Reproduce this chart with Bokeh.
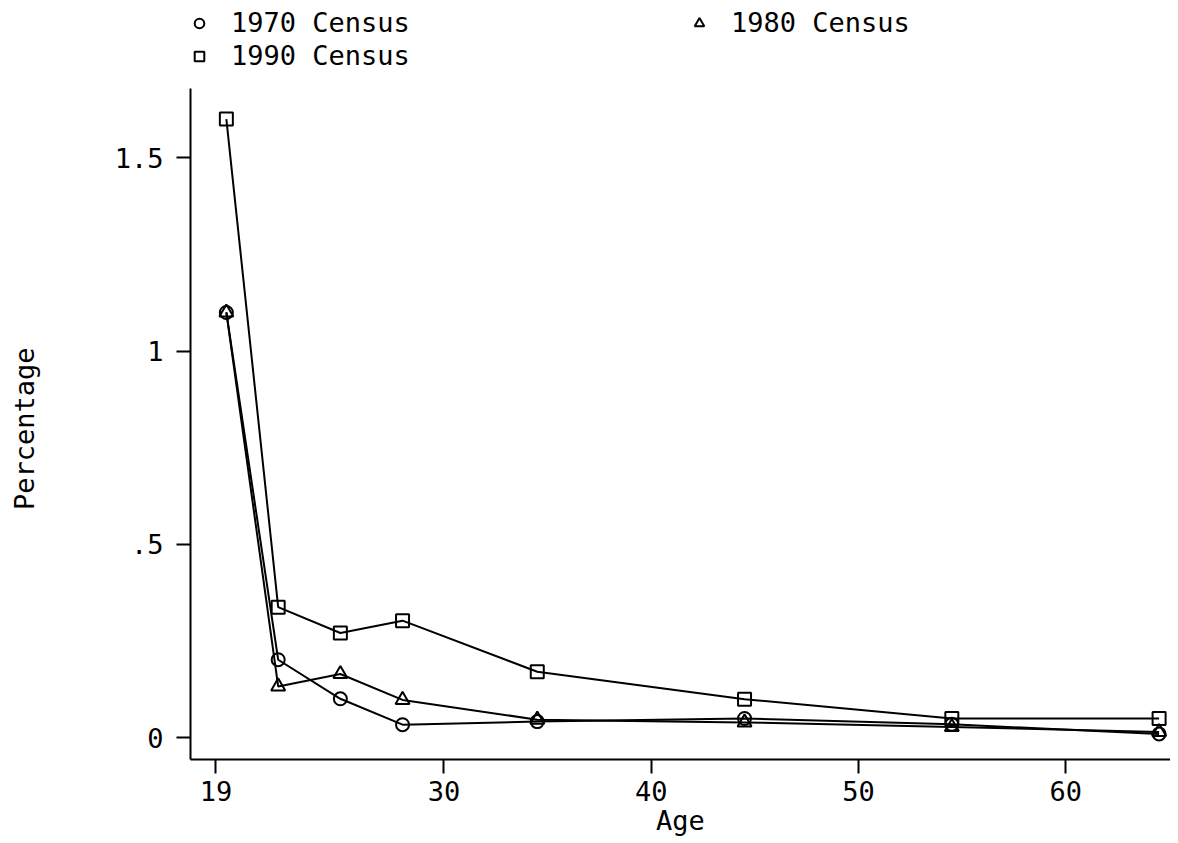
from bokeh.plotting import figure
from bokeh.models import Legend, LegendItem, FixedTicker, Range1d
from bokeh.embed import file_html
from bokeh.resources import INLINE

# ---- data ----
age = [19.5, 22, 25, 28, 34.5, 44.5, 54.5, 64.5]
pct_1970 = [1.10, 0.202, 0.101, 0.034, 0.042, 0.050, 0.035, 0.010]
pct_1980 = [1.10, 0.133, 0.165, 0.098, 0.047, 0.040, 0.028, 0.015]
pct_1990 = [1.60, 0.338, 0.271, 0.303, 0.171, 0.100, 0.050, 0.050]
series_labels = ["1970 Census", "1980 Census", "1990 Census"]
x_ticks = [19, 30, 40, 50, 60]
y_ticks = [0, 0.5, 1, 1.5]
y_tick_labels = ["0", ".5", "1", "1.5"]

FONT = "DejaVu Sans Mono"
FS = "27px"
W, H = 1170, 843
BOTTOM = 84
FRAME_H = H - BOTTOM  # frame spans the full height above the x axis

p = figure(width=W, height=H, output_backend="svg", toolbar_location=None,
           x_range=Range1d(17.77, 65.05), y_range=Range1d(-0.056, 1.9067),
           min_border_left=190, min_border_right=0, min_border_top=0,
           min_border_bottom=BOTTOM)
p.outline_line_color = None
p.xgrid.visible = False
p.ygrid.visible = False

markers = ["circle", "triangle", "square"]
series = [pct_1970, pct_1980, pct_1990]
sizes = [13, 14, 13]
scat = []
for vals, mk, sz in zip(series, markers, sizes):
    p.line(age, vals, line_color="black", line_width=2)
    r = p.scatter(age, vals, marker=mk, size=sz, fill_alpha=0,
                  line_color="black", line_width=2)
    scat.append(r)

for ax in (p.xaxis[0], p.yaxis[0]):
    ax.axis_line_width = 2
    ax.axis_line_color = "black"
    ax.major_tick_line_width = 2
    ax.major_tick_line_color = "black"
    ax.major_tick_out = 14
    ax.major_tick_in = 0
    ax.minor_tick_line_color = None
    ax.major_label_text_font = FONT
    ax.major_label_text_font_size = FS
    ax.major_label_text_color = "black"
    ax.axis_label_text_font = FONT
    ax.axis_label_text_font_size = FS
    ax.axis_label_text_font_style = "normal"
    ax.axis_label_text_color = "black"

p.xaxis.ticker = FixedTicker(ticks=x_ticks)
p.xaxis.axis_label = "Age"
p.xaxis.major_label_standoff = 7
p.xaxis.axis_label_standoff = 1

p.yaxis.ticker = FixedTicker(ticks=y_ticks)
p.yaxis.bounds = (-0.056, 1.679)
p.yaxis.major_label_overrides = {t: l for t, l in zip(y_ticks, y_tick_labels)}
# trailing no-break spaces centre the visible word on the drawn axis line
p.yaxis.axis_label = "Percentage" + "\u00a0" * 6
p.yaxis.major_label_standoff = 13
p.yaxis.axis_label_standoff = 72


def make_legend(idx, bottom_from_frame_bottom):
    lg = Legend(items=[LegendItem(label=series_labels[i], renderers=[scat[i]])
                       for i in idx],
                orientation="horizontal",
                location=(-3, bottom_from_frame_bottom))
    lg.margin = 0
    lg.padding = 0
    lg.spacing = 16
    lg.glyph_width = 24
    lg.glyph_height = 24
    lg.label_standoff = 20
    lg.label_width = 440
    lg.label_text_font = FONT
    lg.label_text_font_size = FS
    lg.label_text_color = "black"
    lg.background_fill_alpha = 0
    lg.border_line_alpha = 0
    return lg


p.add_layout(make_legend([0, 1], FRAME_H - 38))
p.add_layout(make_legend([2], FRAME_H - 71))

open("out.html", "w").write(file_html(p, INLINE))
